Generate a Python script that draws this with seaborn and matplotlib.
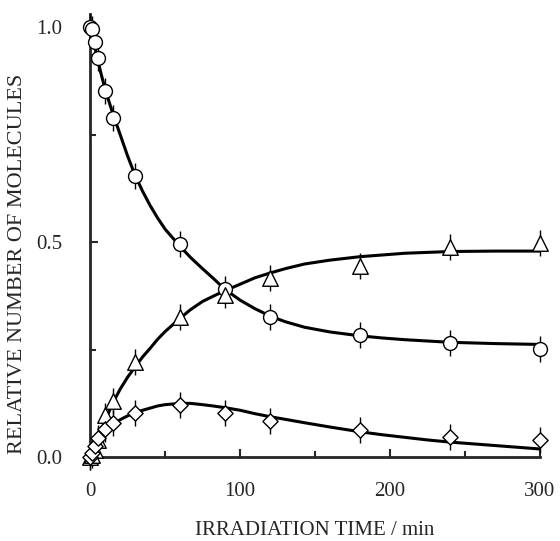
import numpy as np
import pandas as pd
import seaborn as sns
import matplotlib.pyplot as plt
from matplotlib.ticker import MultipleLocator

times = [0, 1, 3, 5, 10, 15, 30, 60, 90, 120, 180, 240, 300]
circle_vals = [1.0, 0.995, 0.965, 0.928, 0.851, 0.788, 0.653, 0.495, 0.39, 0.326, 0.284, 0.265, 0.251]
triangle_vals = [0.0, 0.005, 0.016, 0.04, 0.097, 0.13, 0.221, 0.326, 0.377, 0.416, 0.445, 0.488, 0.497]
diamond_vals = [0.0, 0.01, 0.025, 0.045, 0.065, 0.08, 0.102, 0.121, 0.102, 0.084, 0.063, 0.047, 0.040]
err = 0.03

# fitted curves
curve_t = [0, 2, 5, 7, 10, 15, 20, 25, 30, 35, 40, 45, 50, 60, 67, 75, 82, 90, 100,
           110, 120, 130, 143, 160, 180, 195, 210, 225, 240, 270, 300]
circle_curve = [1.0, 0.97, 0.925, 0.895, 0.855, 0.80, 0.75, 0.70, 0.655, 0.618, 0.585,
                0.556, 0.53, 0.49, 0.464, 0.438, 0.416, 0.39, 0.365, 0.345, 0.328, 0.315,
                0.302, 0.291, 0.282, 0.277, 0.273, 0.270, 0.267, 0.264, 0.262]
triangle_curve = [0.0, 0.016, 0.04, 0.058, 0.085, 0.125, 0.158, 0.186, 0.21, 0.233, 0.253,
                  0.274, 0.292, 0.323, 0.343, 0.362, 0.374, 0.387, 0.402, 0.417, 0.428,
                  0.438, 0.449, 0.458, 0.466, 0.47, 0.474, 0.476, 0.478, 0.479, 0.479]
diamond_curve = [0.0, 0.012, 0.03, 0.042, 0.058, 0.075, 0.087, 0.096, 0.103, 0.109, 0.114,
                 0.119, 0.122, 0.125, 0.125, 0.122, 0.119, 0.115, 0.109, 0.101, 0.094,
                 0.088, 0.080, 0.07, 0.059, 0.052, 0.046, 0.040, 0.035, 0.027, 0.019]

sns.set_style("ticks")
plt.rcParams["font.family"] = ["Liberation Serif", "DejaVu Serif"]

fig = plt.figure(figsize=(5.6, 5.41), dpi=100)
ax = fig.add_axes([0.161, 0.155, 0.803, 0.819])

n = len(curve_t)
curves = pd.DataFrame({
    "t": curve_t * 3,
    "y": circle_curve + triangle_curve + diamond_curve,
    "s": ["a"] * n + ["b"] * n + ["c"] * n,
})
sns.lineplot(data=curves, x="t", y="y", units="s", estimator=None, color="black",
             lw=2.2, ax=ax, legend=False)

for vals, mk, sz in [(circle_vals, "o", 100), (triangle_vals, "^", 125), (diamond_vals, "D", 60)]:
    ax.errorbar(times, vals, yerr=err, fmt="none", ecolor="black", elinewidth=1.0,
                capsize=0, clip_on=False, zorder=3)
    pts = pd.DataFrame({"t": times, "y": vals})
    sns.scatterplot(data=pts, x="t", y="y", marker=mk, s=sz, facecolor="white",
                    edgecolor="black", linewidth=1.0, ax=ax, clip_on=False, zorder=4)

ax.set_xlim(0, 300)
ax.set_ylim(0, 1.03)
ax.xaxis.set_major_locator(MultipleLocator(100))
ax.xaxis.set_minor_locator(MultipleLocator(50))
ax.yaxis.set_minor_locator(MultipleLocator(0.25))
ax.set_yticks([0, 0.5, 1.0])
ax.set_yticklabels(["0.0", "0.5", "1.0"])
ax.tick_params(which="major", direction="in", length=6, width=1.5, labelsize=15, pad=18)
ax.tick_params(axis="y", which="major", pad=20)
ax.tick_params(which="minor", direction="in", length=4.5, width=1.5)
sns.despine(ax=ax)
for sp in ["left", "bottom"]:
    ax.spines[sp].set_linewidth(2.0)

ax.set_xlabel("IRRADIATION TIME / min", fontsize=15, labelpad=14)
ax.set_ylabel("RELATIVE NUMBER OF MOLECULES", fontsize=16)
ax.yaxis.set_label_coords(-0.14, 0.436)

fig.savefig("out.png", dpi=100)
